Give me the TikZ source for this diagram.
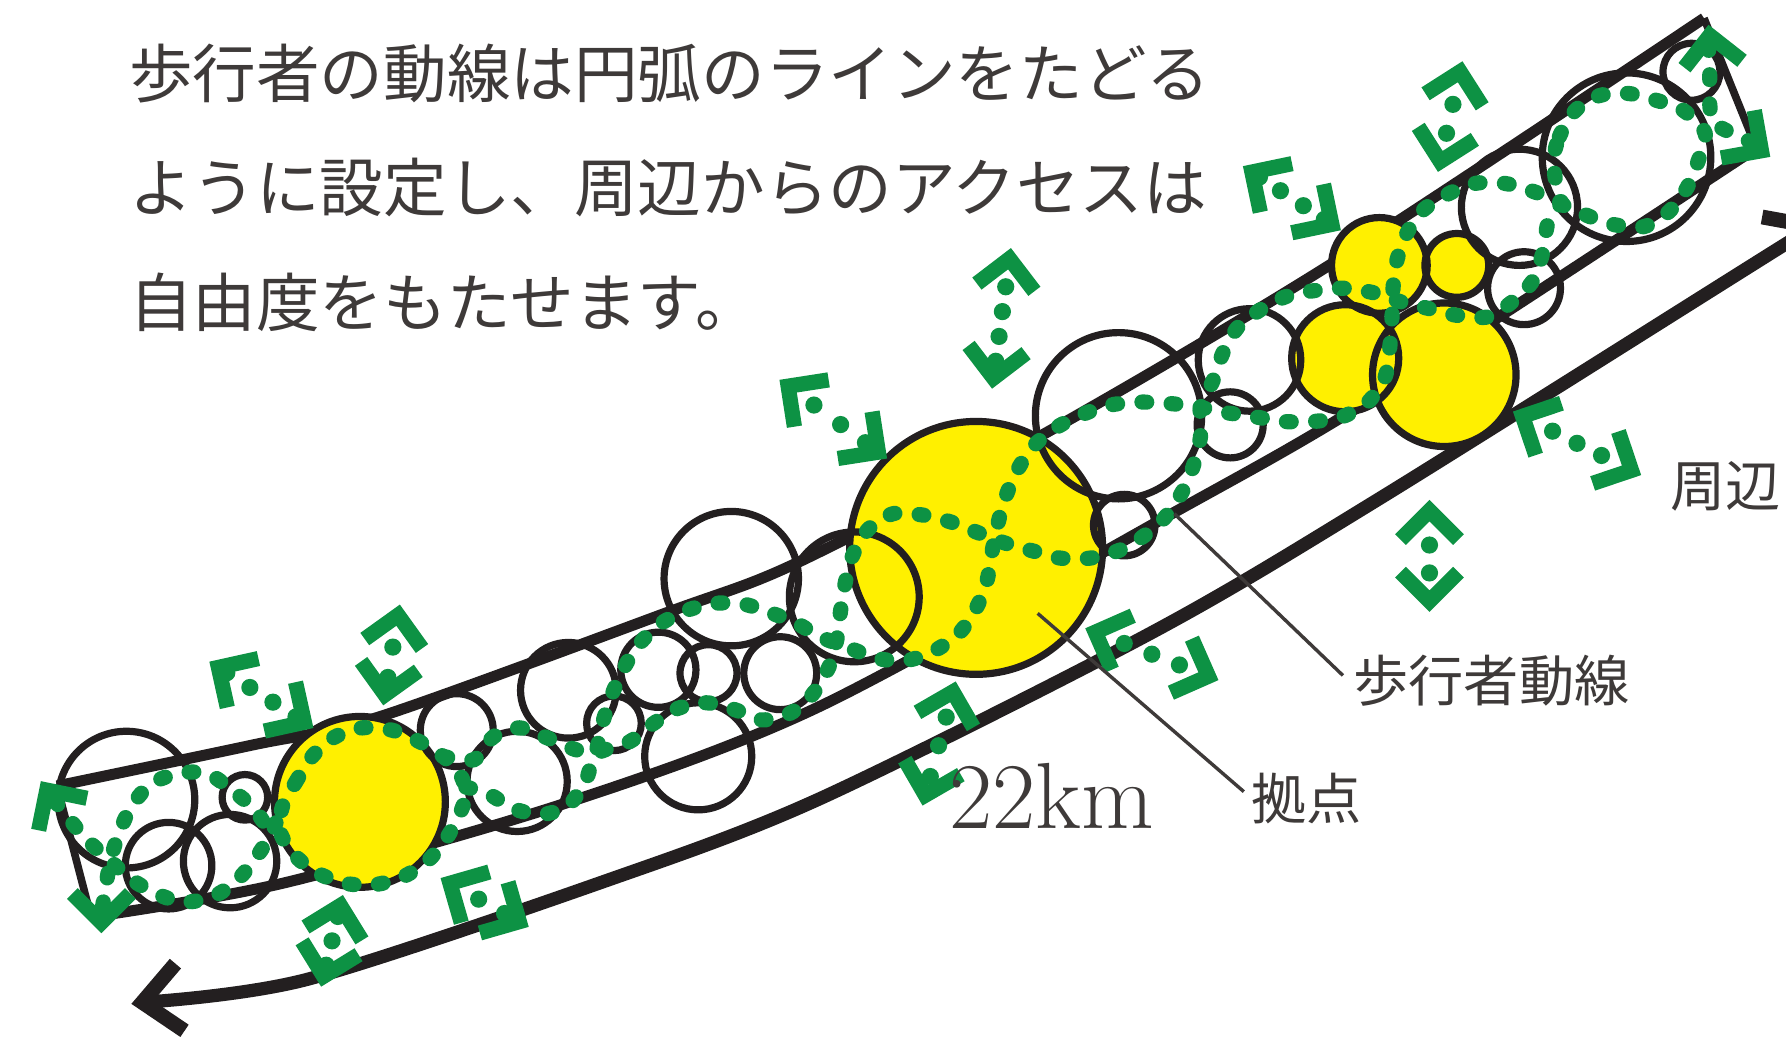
\documentclass[tikz,border=0pt]{standalone}
\usepackage{fontspec}
\newfontfamily\jp{Noto Sans CJK JP}
\usetikzlibrary{calc}
\definecolor{bk}{RGB}{35,31,32}
\definecolor{yl}{RGB}{255,240,0}
\definecolor{gr}{RGB}{13,146,68}
\definecolor{tx}{RGB}{62,58,57}
\def\chevins{5.24pt}
\def\chevarm{20.5pt}
\newcommand{\chev}[2]{%
  \coordinate (cA) at ($#1!\chevins!#2$);
  \draw[chev] ($(cA)!\chevarm!45:#2$) -- (cA) -- ($(cA)!\chevarm!-45:#2$);}
\newcommand{\accsym}[3]{%
  \chev{#1}{#2}\chev{#2}{#1}%
  \coordinate (aC) at ($#1!0.5!#2$);
  \coordinate (aQ) at #2;
  \foreach \d in {#3}{\pgfmathsetlengthmacro\dd{\d*0.5695pt}%
    \fill[gr] ($(aC)!\dd!(aQ)$) circle[radius=4.3pt];}}
\begin{document}
\begin{tikzpicture}[x=0.5695pt,y=-0.5695pt,
  band/.style={draw=bk,line width=5.5pt},
  capline/.style={draw=bk,line width=3.8pt},
  circ/.style={draw=bk,line width=3.6pt},
  gdot/.style={draw=gr,line width=7.6pt,line cap=round,dash pattern=on 2.4pt off 12.2pt},
  chev/.style={draw=gr,line width=7.6pt,line join=miter,miter limit=10},
  bigarc/.style={draw=bk,line width=6.6pt},
  arrowhd/.style={draw=bk,line width=7.4pt,line join=miter,miter limit=10},
  leader/.style={draw=tx,line width=1.7pt},
  txt/.style={text=tx,inner sep=0pt,anchor=west,font=\jp\fontsize{31.8}{38}\selectfont},
  lab/.style={text=tx,inner sep=0pt,anchor=west,font=\jp\fontsize{27.6}{33}\selectfont}]
\useasboundingbox (0,0) rectangle (1568,912);
\fill[white] (0,0) rectangle (1568,912);
\clip (0,0) rectangle (1568,912);

% band
\draw[band] plot[smooth] coordinates {(50,690) (222,654) (334,629) (585,538) (700,494) (913,383) (1170,231) (1496,16)};
\draw[band] plot[smooth] coordinates {(80,805) (250,775) (497,705) (720,620) (1027,452) (1206,349) (1542,130)};
\draw[capline] (50,690) -- (80,805);
\draw[capline] (1496,16) -- (1542,130);

% outer arc with arrows
\draw[bigarc] plot[smooth] coordinates {(125,880) (269,860) (527,775) (718,702) (1010,556) (1209,439) (1568,214) (1594,199)};
\draw[arrowhd] (154,846) -- (125,880) -- (162,905);
\draw[arrowhd] (1547,190.5) -- (1594,199) -- (1583,246);

% yellow fills
\foreach \x/\y/\r in {316/704/75, 857/481/111, 1181/314.5/47, 1268/329/63, 1211/233/42, 1279/233/28}
  \fill[yl] (\x,\y) circle[radius=\r*0.5695pt];
% outlines
\foreach \x/\y/\r in {316/704/75, 857/481/111, 1181/314.5/47, 1268/329/63, 1211/233/42, 1279/233/28,
  111/702/60, 148/760/38, 202/756/41, 215/700/20, 401/641/32, 454/686/44, 499/606/42, 539/635/24,
  578/588/33, 622/591/25, 685/591/32, 613/664/47, 642/508/59, 750/524/57, 982/365/73, 987/461/27,
  1080/373/29, 1097/316/45, 1338/253/32, 1334/182/51, 1428/138/74, 1485/63/25}
  \draw[circ] (\x,\y) circle[radius=\r*0.5695pt];

% pedestrian dotted paths
\draw[gdot] plot[smooth] coordinates {(48,703) (60,718) (75,736) (96,755) (114,771) (136,784) (161,792) (187,787) (207,774) (224,754) (238,732) (248,708)};
\draw[gdot] plot[smooth] coordinates {(90,796) (93,778) (97,755) (105,730) (116,707) (133,688) (157,679) (182,679) (204,694) (223,710) (238,732)};
\draw[gdot] plot[smooth cycle] coordinates {(248,708) (260,686) (275,663) (294,647) (318,639) (344,641) (368,651) (389,664) (404,680) (409,697) (403,716) (390,739) (373,758) (351,771) (326,777) (301,775) (276,765) (257,749) (246,730)};
\draw[gdot] plot[smooth] coordinates {(389,664) (416,667) (433,647) (456,639) (481,648) (505,658) (522,661) (528,638) (536,613) (546,590) (559,568) (578,549) (600,537) (625,530) (651,530) (674,537) (699,547) (720,559) (746,569) (770,578) (795,580) (819,572) (841,557) (856,536) (866,512) (871,484) (876,460) (883,436) (893,413) (908,391) (928,375) (950,364) (973,356) (997,353) (1024,354) (1050,357) (1075,362) (1102,366) (1127,370) (1153,370) (1178,366) (1201,353) (1216,331) (1220,306) (1222,280) (1223,253) (1226,230) (1235,205) (1250,184) (1272,170) (1295,161) (1321,161) (1346,168) (1371,178)};
\draw[gdot] plot[smooth] coordinates {(409,691) (429,697) (451,710) (476,715) (499,707) (514,686) (524,662) (553,651) (574,635) (595,622) (620,617) (645,623) (669,632) (694,626) (713,610) (728,585) (735,560) (738,536) (742,512) (748,489) (762,465) (784,451) (809,452) (834,458) (857,467) (883,477) (908,484) (931,490) (957,490) (983,483) (1005,470) (1023,454) (1039,430) (1048,408) (1054,383) (1054,358) (1065,334) (1074,309) (1087,287) (1108,271) (1130,260) (1155,255) (1179,253) (1206,257) (1230,265) (1255,271) (1280,277) (1307,278) (1330,263) (1346,246) (1355,220) (1359,196) (1371,178)};
\draw[gdot] plot[smooth cycle] coordinates {(1364,143) (1369,120) (1383,97) (1404,84) (1429,82) (1454,88) (1478,97) (1497,117) (1491,141) (1481,165) (1465,186) (1443,199) (1416,197) (1393,189) (1371,178)};
\draw[gdot] plot[smooth] coordinates {(1500,40) (1501,66) (1501,91) (1505,108) (1525,119) (1536,124)};

% access symbols
\accsym{(184,581)}{(275,639)}{-36,-12,12,36}
\accsym{(336.5,619)}{(351,531)}{-20,7}
\chev{(36,686)}{(63.5,727.5)}
\chev{(89,819)}{(89,769)}
\accsym{(282,866)}{(301,786)}{-22,0,22}
\accsym{(387,771)}{(464,813.6)}{-6,20}
\accsym{(684.5,333.6)}{(778.6,402.4)}{-21,8,35}
\accsym{(871,341)}{(887.5,218)}{-38,-16,6,28}
\accsym{(1091.4,146)}{(1177,202)}{-34,-12,12,34}
\accsym{(1262.5,150.7)}{(1283.9,54)}{-15,11}
\chev{(1500,22)}{(1506,72)}
\chev{(1554,137.6)}{(1513,109)}
\accsym{(1328.5,361.4)}{(1440.6,417)}{-24,0,24}
\accsym{(1255,537)}{(1255,439)}{-15,9.5}
\accsym{(953,551.7)}{(1069.5,597)}{-26,0,26}
\accsym{(810,707)}{(839,598.5)}{-30,-2,24}

% texts
\node[txt] (t1) at (113,65) {歩行者の動線は円弧のラインをたどる};
\node[txt] (t2) at (113,165) {ように設定し、周辺からのアクセスは};
\node[txt] (t3) at (113,265) {自由度をもたせます。};
\node[anchor=base west,inner sep=0pt,text=tx,font=\fontsize{47}{54}\selectfont] (km) at (833,727) {22km};
\node[lab] (lwalk) at (1188,598) {歩行者動線};
\node[lab] (lbase) at (1098,701) {拠点};
\node[lab] (lsur) at (1466,427) {周辺};
\coordinate (pwalk) at (1031,451);
\coordinate (pbase) at (911,538.5);
\draw[leader] (pwalk) -- ([shift={(-9,-5)}]lwalk.west);
\draw[leader] (pbase) -- ([shift={(-6,-6)}]lbase.west);
\end{tikzpicture}
\end{document}
